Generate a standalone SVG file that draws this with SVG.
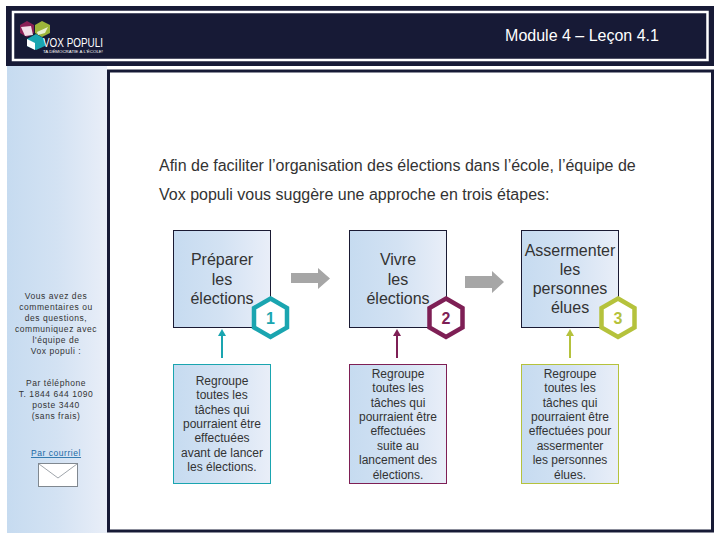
<svg xmlns="http://www.w3.org/2000/svg" width="720" height="540" viewBox="0 0 720 540">
<defs>
<linearGradient id="g" x1="0" y1="0" x2="1" y2="0"><stop offset="0" stop-color="#c6dbf0"/><stop offset="0.5" stop-color="#d3e2f3"/><stop offset="1" stop-color="#e9eef8"/></linearGradient>
<marker id="m1" markerWidth="9" markerHeight="9" refX="5" refY="4" orient="auto" markerUnits="userSpaceOnUse"><path d="M0 0L7 4L0 8z" fill="#1aa5b0"/></marker>
<marker id="m2" markerWidth="9" markerHeight="9" refX="5" refY="4" orient="auto" markerUnits="userSpaceOnUse"><path d="M0 0L7 4L0 8z" fill="#7e1f55"/></marker>
<marker id="m3" markerWidth="9" markerHeight="9" refX="5" refY="4" orient="auto" markerUnits="userSpaceOnUse"><path d="M0 0L7 4L0 8z" fill="#b5c23c"/></marker>
</defs>
<style>
text{font-family:"Liberation Sans",Arial,sans-serif;text-anchor:middle}
.box{fill:url(#g);stroke:#1a1a33;stroke-width:1}
.t16{font-size:16px;fill:#333}
.t12{font-size:12px;fill:#333}
.side{font-size:8.5px;fill:#333;letter-spacing:.55px}
.intro{font-size:16px;fill:#333;text-anchor:start}
.hex{fill:#fff;stroke-width:4.5}
.num{font-size:16px;font-weight:bold}
.conn{fill:none;stroke-width:2}
</style>
<rect width="720" height="540" fill="#fff"/>
<g id="header">
<rect x="6" y="6" width="708" height="60" fill="#171a36"/>
<rect x="13" y="12" width="694.500" height="48" fill="none" stroke="#fff" stroke-width="2.500"/>
<text x="582" y="41" style="font-size:16px" fill="#fff">Module 4 – Leçon 4.1</text>
</g>
<g id="logo">
<path d="M27 21L34 25V33L27 37L20 33V25Z" fill="#8a1f55"/>
<path d="M42 21L50 25V33L42 37L35 33V25Z" fill="#9cb53a"/>
<path d="M36 34L45 39V46L36 50L27 46V39Z" fill="#1aa5b0"/>
<path d="M27 39L35 43V50L27 46Z" fill="#fff"/>
<path d="M21 27L31 26L33 35L25 36Z" fill="#f2dfe8"/>
<path d="M37 32L48 27L45 33L38 35Z" fill="#e8efd0"/>
<text x="73" y="47" style="font-size:13.500px" fill="#fff" textLength="60" lengthAdjust="spacingAndGlyphs">VOX POPULI</text>
<text x="73" y="53" style="font-size:4px" fill="#fff" textLength="60" lengthAdjust="spacingAndGlyphs">TA DÉMOCRATIE À L'ÉCOLE!</text>
</g>
<g id="sidebar">
<rect x="7" y="66" width="100" height="467" fill="url(#g)"/>
<text class="side"><tspan x="56" y="299">Vous avez des</tspan><tspan x="56" y="310">commentaires ou</tspan><tspan x="56" y="321">des questions,</tspan><tspan x="56" y="332">communiquez avec</tspan><tspan x="56" y="343">l'équipe de</tspan><tspan x="56" y="354">Vox populi :</tspan></text>
<text class="side"><tspan x="56" y="386">Par téléphone</tspan><tspan x="56" y="397">T. 1844 644 1090</tspan><tspan x="56" y="408">poste 3440</tspan><tspan x="56" y="419">(sans frais)</tspan></text>
<text class="side" x="56" y="456" style="fill:#1b6aa5;text-decoration:underline">Par courriel</text>
</g>
<g id="envelope">
<rect x="38.500" y="463.500" width="39" height="23" fill="#fff" stroke="#808890"/>
<path d="M39 464L58 478L77 464" fill="none" stroke="#a0a6ac"/>
</g>
<g id="frame"><rect x="108.500" y="71" width="604" height="460" fill="#fff" stroke="#171a36" stroke-width="3"/></g>
<g id="intro">
<text class="intro" x="159" y="171">Afin de faciliter l’organisation des élections dans l’école, l’équipe de</text>
<text class="intro" x="159" y="200">Vox populi vous suggère une approche en trois étapes:</text>
</g>
<g id="connectors">
<path d="M291 273H318V268L330 278.500L318 289V283H291Z" fill="#a6a6a6"/>
<path d="M465 276H492V271L504 282L492 293V288H465Z" fill="#a6a6a6"/>
<path class="conn" d="M222 358V331" stroke="#1aa5b0" marker-end="url(#m1)"/>
<path class="conn" d="M397 358V331" stroke="#7e1f55" marker-end="url(#m2)"/>
<path class="conn" d="M570 358V331" stroke="#b5c23c" marker-end="url(#m3)"/>
</g>
<g id="step1">
<rect class="box" x="173.500" y="230.500" width="97" height="97"/>
<text class="t16"><tspan x="222" y="265">Préparer</tspan><tspan x="222" y="285">les</tspan><tspan x="222" y="304">élections</tspan></text>
</g>
<g id="hex1"><path class="hex" stroke="#1aa5b0" d="M270.500 298.500L287 308V327.500L270.500 337L254 327.500V308Z"/><text class="num" x="270.500" y="323.500" fill="#1aa5b0">1</text></g>
<g id="step2">
<rect class="box" x="349.500" y="230.500" width="97" height="97"/>
<text class="t16"><tspan x="398" y="265">Vivre</tspan><tspan x="398" y="285">les</tspan><tspan x="398" y="304">élections</tspan></text>
</g>
<g id="hex2"><path class="hex" stroke="#7e1f55" d="M446 298.500L462.500 308V327.500L446 337L429.500 327.500V308Z"/><text class="num" x="446" y="323.500" fill="#7e1f55">2</text></g>
<g id="step3">
<rect class="box" x="521.500" y="230.500" width="97" height="97"/>
<text class="t16"><tspan x="570" y="256">Assermenter</tspan><tspan x="570" y="275">les</tspan><tspan x="570" y="294">personnes</tspan><tspan x="570" y="313">élues</tspan></text>
</g>
<g id="hex3"><path class="hex" stroke="#b5c23c" d="M618 298.500L634.500 308V327.500L618 337L601.500 327.500V308Z"/><text class="num" x="618" y="323.500" fill="#b5c23c">3</text></g>
<g id="detail1">
<rect class="box" style="stroke:#1aa5b0" x="173.500" y="364.500" width="97" height="119"/>
<text class="t12"><tspan x="222" y="385">Regroupe</tspan><tspan x="222" y="399">toutes les</tspan><tspan x="222" y="414">tâches qui</tspan><tspan x="222" y="428">pourraient être</tspan><tspan x="222" y="442">effectuées</tspan><tspan x="222" y="457">avant de lancer</tspan><tspan x="222" y="471">les élections.</tspan></text>
</g>
<g id="detail2">
<rect class="box" style="stroke:#7e1f55" x="349.500" y="364.500" width="97" height="119"/>
<text class="t12"><tspan x="398" y="378">Regroupe</tspan><tspan x="398" y="392">toutes les</tspan><tspan x="398" y="407">tâches qui</tspan><tspan x="398" y="421">pourraient être</tspan><tspan x="398" y="435">effectuées</tspan><tspan x="398" y="450">suite au</tspan><tspan x="398" y="464">lancement des</tspan><tspan x="398" y="479">élections.</tspan></text>
</g>
<g id="detail3">
<rect class="box" style="stroke:#b5c23c" x="521.500" y="364.500" width="97" height="119"/>
<text class="t12"><tspan x="570" y="378">Regroupe</tspan><tspan x="570" y="392">toutes les</tspan><tspan x="570" y="407">tâches qui</tspan><tspan x="570" y="421">pourraient être</tspan><tspan x="570" y="435">effectuées pour</tspan><tspan x="570" y="450">assermenter</tspan><tspan x="570" y="464">les personnes</tspan><tspan x="570" y="479">élues.</tspan></text>
</g>
</svg>
